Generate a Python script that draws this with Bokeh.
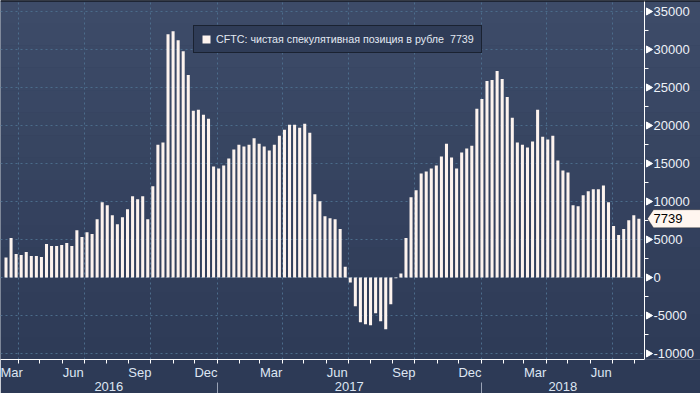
import math
import datetime as dt
from bokeh.plotting import figure
from bokeh.models import (ColumnDataSource, LinearAxis, FixedTicker, Range1d, Span,
                          Legend, LegendItem, BoxAnnotation, Label, PolyAnnotation)
from bokeh.core.properties import value
from bokeh.embed import file_html
from bokeh.resources import INLINE

# ---------------- data ----------------
first_week = dt.date(2016, 3, 15)          # weekly CFTC reports (Tuesdays)
net_position = [
    2620, 5190, 3100, 2960, 3360, 2830, 2830, 2700, 4400, 4140, 4140, 4270, 4530, 4140,
    6230, 5320, 5970, 5710, 7670, 9900, 9500,
    8200, 7020, 7940, 8980, 10680, 10290, 10680, 7670, 11990, 17480, 17750, 32000, 32390,
    31220, 29780, 26640, 21930, 22060, 21410, 20880, 14610, 14340,
    14740, 15650, 16830, 17480, 17220, 17480, 18310, 17610, 17220, 16700, 17480, 18660,
    19450, 20100, 20100, 19710, 20230, 19050, 10940, 10030, 8070,
    7800, 7670, 6370, 1400, -650, -3790, -5890, -6150, -6280, -4710, -5760, -6800, -3530,
    -100, 520, 5190, 10550, 11470, 13690, 13950, 14340,
    14740, 15910, 17610, 15780, 14340, 16440, 16960, 17350, 22190, 23500, 25850, 25990,
    27160, 26120, 23760, 21020, 17750, 17480, 17090, 17880, 22060,
    18530, 18140, 18660, 15390, 14080, 13820, 9500, 9370, 10810, 11340, 11600, 11600,
    12120, 9900, 6760, 5580, 6370, 7540, 8200, 7739,
]
last_value = 7739
series_label = "CFTC: чистая спекулятивная позиция в рубле  7739"
month_labels = {3: "Mar", 6: "Jun", 9: "Sep", 12: "Dec"}
years = [2016, 2017, 2018]
y_ticks = list(range(-10000, 35001, 5000))
y_minor = [v for v in range(-10000, 35001, 2500) if v % 5000 != 0]
y_tick_labels = [str(v) for v in y_ticks]

# ---------------- geometry ----------------
EPOCH = dt.date(2016, 1, 1)
def day(d):
    return float((d - EPOCH).days)

W, H = 700, 393
BOTTOM = 33
FH = H - BOTTOM            # frame height
DATA_W = 644               # width of the bar area, axis labels live to its right

pxx = 264.0 / 365.0        # pixels per day
x0 = day(dt.date(2017, 1, 1)) - 216.7 / pxx
x_data_end = x0 + DATA_W / pxx
x1 = x0 + W / pxx

pxy = 343.0 / 45000.0      # pixels per unit
y1 = 35000 + 11 / pxy
y0 = -10000 - (FH - 354) / pxy

xs = [day(first_week + dt.timedelta(weeks=i)) for i in range(len(net_position))]
src = ColumnDataSource(dict(x=xs, top=net_position))

p = figure(width=W, height=H, output_backend="svg", toolbar_location=None,
           x_range=Range1d(x0, x1), y_range=Range1d(y0, y1),
           y_axis_location=None,
           min_border_left=0, min_border_top=0, min_border_right=0,
           min_border_bottom=BOTTOM)
p.background_fill_color = "#35425e"
p.border_fill_color = "#2d3a56"
p.outline_line_color = None

# background gradient bands
top_c = (62, 76, 105)
bot_c = (45, 58, 86)
N = 16
for i in range(N):
    r0 = FH * i / N
    r1 = FH * (i + 1) / N
    t = (i + 0.5) / N
    col = "#%02x%02x%02x" % tuple(int(round(a + (b - a) * t)) for a, b in zip(top_c, bot_c))
    p.add_layout(BoxAnnotation(top=y1 - r0 / pxy + (1e5 if i == 0 else 0),
                               bottom=y1 - r1 / pxy - (1e5 if i == N - 1 else 0),
                               fill_color=col, fill_alpha=1, line_color=None, level="image"))

grid_col = "#4c6d8c"
# horizontal grid lines (stop at the right axis)
p.segment(x0=[x0] * len(y_ticks), x1=[x_data_end] * len(y_ticks), y0=y_ticks, y1=y_ticks,
          line_color=grid_col, line_dash="2 3", line_width=1)

# bars
bars = p.vbar(x="x", top="top", bottom=0, width=4.2, source=src,
              fill_color="#fdf3ee", line_color=None)

# months / quarters
mids, starts, qstarts, mlab = [], [], [], {}
y, m = 2016, 1
while (y, m) <= (2018, 12):
    s = dt.date(y, m, 1)
    ny, nm = (y + (1 if m == 12 else 0), m % 12 + 1)
    e = dt.date(ny, nm, 1)
    if day(s) <= x_data_end:
        starts.append(day(s))
        if m in (1, 4, 7, 10):
            qstarts.append(day(s))
    if m in month_labels:
        mid = (day(s) + day(e)) / 2
        if x0 <= mid <= x_data_end:
            mids.append(mid)
            mlab[mid] = month_labels[m]
    y, m = ny, nm

label_col = "#dde6f3"
font = "Liberation Sans"

xa = p.xaxis[0]
xa.ticker = FixedTicker(ticks=mids, minor_ticks=starts)
xa.major_label_overrides = mlab
xa.bounds = (x0, x_data_end)
xa.axis_line_color = "white"
xa.major_tick_out = 0
xa.major_tick_in = 0
xa.minor_tick_out = 4
xa.minor_tick_in = 0
xa.minor_tick_line_color = "white"
xa.major_label_text_color = label_col
xa.major_label_text_font = font
xa.major_label_text_font_size = "13px"
xa.major_label_standoff = 1

ycent, ystarts, ylab = [], [], {}
for yr in years:
    a = max(x0, day(dt.date(yr, 1, 1)))
    b = min(x_data_end, day(dt.date(yr + 1, 1, 1)))
    c = (a + b) / 2
    ycent.append(c)
    ylab[c] = str(yr)
    if yr > years[0]:
        ystarts.append(day(dt.date(yr, 1, 1)))
ax2 = LinearAxis(ticker=FixedTicker(ticks=ycent, minor_ticks=ystarts),
                 major_label_overrides=ylab)
ax2.axis_line_color = None
ax2.major_tick_out = 0
ax2.major_tick_in = 0
ax2.minor_tick_out = 16
ax2.minor_tick_in = 0
ax2.minor_tick_line_color = "#9aa3b6"
ax2.major_label_text_color = label_col
ax2.major_label_text_font = font
ax2.major_label_text_font_size = "13px"
ax2.major_label_standoff = -17
p.add_layout(ax2, "below")

p.xgrid.ticker = FixedTicker(ticks=qstarts)
p.xgrid.grid_line_color = grid_col
p.xgrid.grid_line_dash = "2 3"
p.ygrid.visible = False

# right value axis drawn at the edge of the bar area
p.add_layout(Span(location=x_data_end, dimension="height", line_color="white", line_width=1))
p.add_layout(Span(location=y1, dimension="width", line_color="black", line_width=2))
p.scatter(x=[x_data_end + 4 / pxx] * len(y_ticks), y=y_ticks, marker="triangle",
          angle=-math.pi / 2, size=7, fill_color="white", line_color="white")
p.segment(x0=[x_data_end] * len(y_minor), x1=[x_data_end + 4 / pxx] * len(y_minor),
          y0=y_minor, y1=y_minor, line_color="white", line_width=1)
p.text(x=[x_data_end + 9 / pxx] * len(y_ticks), y=y_ticks, text=y_tick_labels,
       text_baseline="middle", text_align="left", text_color="#eef2f8",
       text_font=value(font), text_font_size="13px")

# legend
legend = Legend(items=[LegendItem(label=series_label, renderers=[bars])],
                location=(193, FH - 54))
legend.background_fill_color = "#2f3c57"
legend.background_fill_alpha = 1
legend.border_line_color = "#05070c"
legend.border_line_width = 1.5
legend.padding = 7
legend.margin = 0
legend.label_standoff = 5
legend.glyph_width = 10
legend.glyph_height = 10
legend.label_height = 12
legend.label_text_font = font
legend.label_text_font_size = "10.7px"
legend.label_text_color = "#e2e8f2"
p.add_layout(legend)

# last value callout on the right axis
h = 9 / pxy
tip = x_data_end + 3 / pxx
sh = x_data_end + 9 / pxx
far = x1 + 10 / pxx
p.add_layout(PolyAnnotation(xs=[tip, sh, far, far, sh],
                            ys=[last_value, last_value + h, last_value + h,
                                last_value - h, last_value - h],
                            fill_color="#fff6f0", fill_alpha=1,
                            line_color="black", line_width=1, level="overlay"))
p.add_layout(Label(x=sh, y=last_value, text=str(last_value),
                   text_baseline="middle", text_align="left", text_color="black",
                   text_font=font, text_font_size="13px", level="overlay"))

open("out.html", "w").write(file_html(p, INLINE))
